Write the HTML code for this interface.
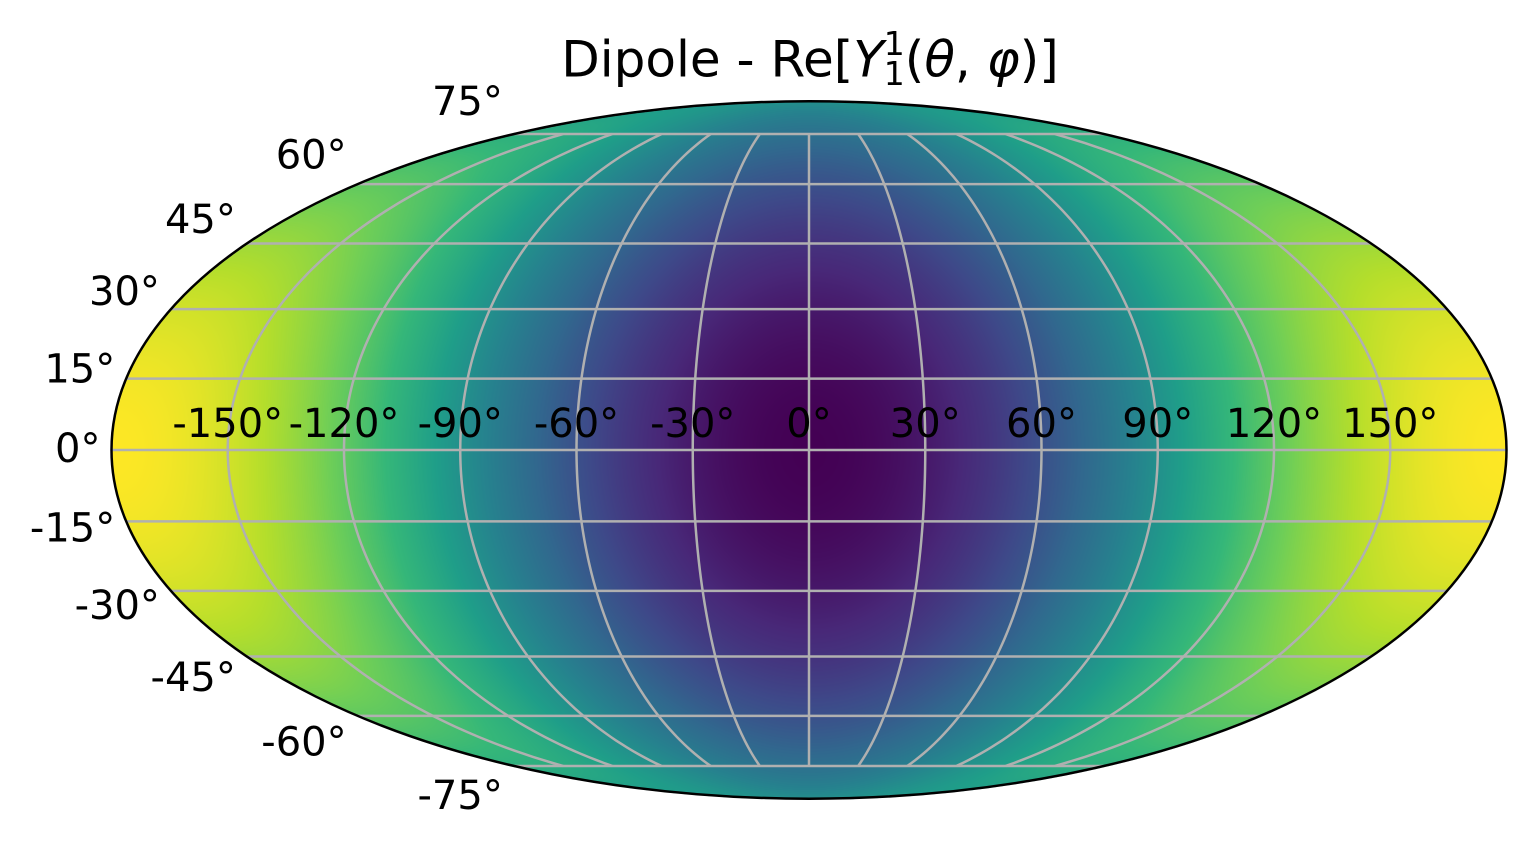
<!DOCTYPE html>
<html><head><meta charset="utf-8">
<style>
html,body{margin:0;padding:0;background:#fff;}
#wrap{position:relative;width:1537px;height:848px;overflow:hidden;font-family:"DejaVu Sans","Liberation Sans",sans-serif;}
canvas,svg{position:absolute;left:0;top:0;}
#title{position:absolute;left:0;width:1620px;top:33px;line-height:48px;text-align:center;font-size:50px;color:#000;white-space:nowrap;}
#title i{font-style:italic;}
.ss{display:inline-block;vertical-align:middle;font-size:33px;line-height:30px;text-align:left;position:relative;top:-4px;}
</style></head>
<body>
<div id="wrap">
<canvas id="cv" width="1537" height="848"></canvas>
<svg id="sv" width="1537" height="848"></svg>
<div id="title">Dipole - Re[<i>Y</i><span class="ss">1<br>1</span>(<i>θ</i>, <i>φ</i>)]</div>
</div>
<script>
// data arrays
const latTicks = [-75,-60,-45,-30,-15,0,15,30,45,60,75];
const lonTicks = [-150,-120,-90,-60,-30,0,30,60,90,120,150];
const valueRange = [-1, 1]; // Re[Y_1^1] normalised range
const viridisStops = ["#440154","#482878","#3e4989","#31688e","#26828e","#1f9e89","#35b779","#6ece58","#b5de2b","#fde725"];

const CX=809, CY=450, HW=697.5, HH=348.7;
function theta(lat){
  const t=Math.PI*Math.sin(lat);let th=lat;
  for(let i=0;i<30;i++){const f=2*th+Math.sin(2*th)-t;const d=2+2*Math.cos(2*th);if(Math.abs(d)<1e-9)break;th-=f/d;}
  return th;
}
function proj(lonDeg,latDeg){
  const lat=latDeg*Math.PI/180, lon=lonDeg*Math.PI/180, th=theta(lat);
  return [CX+HW*(lon/Math.PI)*Math.cos(th), CY-HH*Math.sin(th)];
}
function hex(c){return [parseInt(c.slice(1,3),16),parseInt(c.slice(3,5),16),parseInt(c.slice(5,7),16)];}
const stops=viridisStops.map(hex);
function cmap(t){
  t=Math.max(0,Math.min(1,t));const p=t*(stops.length-1);const i=Math.min(stops.length-2,Math.floor(p));const f=p-i;
  return [0,1,2].map(k=>stops[i][k]+(stops[i+1][k]-stops[i][k])*f);
}
const cv=document.getElementById('cv');const ctx=cv.getContext('2d');
const img=ctx.createImageData(1537,848);
for(let y=0;y<848;y++){
  const ny=(CY-y)/HH; if(Math.abs(ny)>1)continue;
  const th=Math.asin(ny);const lat=Math.asin((2*th+Math.sin(2*th))/Math.PI);
  for(let x=0;x<1537;x++){
    const nx=(x-CX)/HW; const c=Math.cos(th);
    if(nx*nx+ny*ny>1)continue;
    const lon=Math.PI*nx/(c||1e-9);
    const v=-Math.cos(lat)*Math.cos(lon);
    const col=cmap((v-valueRange[0])/(valueRange[1]-valueRange[0]));
    const o=(y*1537+x)*4;img.data[o]=col[0];img.data[o+1]=col[1];img.data[o+2]=col[2];img.data[o+3]=255;
  }
}
ctx.putImageData(img,0,0);

const sv=document.getElementById('sv');const NS='http://www.w3.org/2000/svg';
function mk(tag,attrs){const e=document.createElementNS(NS,tag);for(const k in attrs)e.setAttribute(k,attrs[k]);sv.appendChild(e);return e;}
latTicks.forEach(lat=>{
  const a=proj(-180,lat),b=proj(180,lat);
  const l=mk('line',{x1:a[0],y1:a[1],x2:b[0],y2:b[1],stroke:'#b0b0b0','stroke-width':2.5});
  
  
});
lonTicks.forEach(lon=>{
  let d='';
  for(let lat=-75;lat<=75.01;lat+=1){const p=proj(lon,lat);d+=(d?'L':'M')+p[0].toFixed(2)+' '+p[1].toFixed(2);}
  const pth=mk('path',{d:d,fill:'none',stroke:'#b0b0b0','stroke-width':2.5});
  
  
});
const el=mk('ellipse',{cx:CX,cy:CY,rx:HW,ry:HH,fill:'none',stroke:'#000','stroke-width':2.5});


latTicks.forEach(lat=>{
  const p=proj(-180,lat);
  const t=mk('text',{x:p[0]-11,y:p[1]-32*Math.sin(lat*Math.PI/180)+12,'text-anchor':'end','font-size':'40px',fill:'#000'});
  t.textContent=lat+'°';
  
  
});
lonTicks.forEach(lon=>{
  const p=proj(lon,0);
  const t=mk('text',{x:p[0],y:437,'text-anchor':'middle','font-size':'40px',fill:'#000'});
  t.textContent=lon+'°';
  
  
});
</script>
</body></html>
